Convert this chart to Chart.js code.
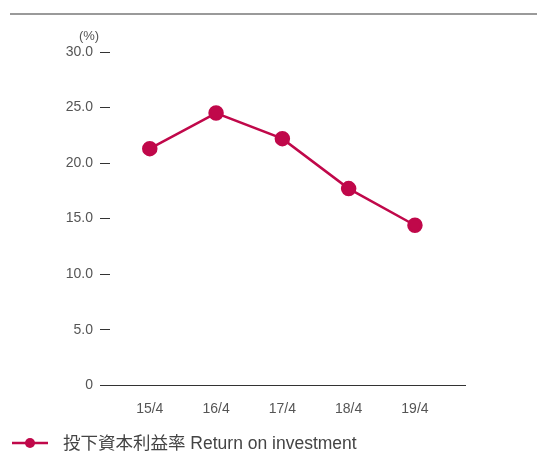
<!DOCTYPE html>
<html>
<head>
<meta charset="utf-8">
<script src="https://cdn.jsdelivr.net/npm/chart.js@4"></script>
<style>
  html, body { margin: 0; padding: 0; background: #fff; }
  #wrap { position: relative; width: 537px; height: 453px; }
</style>
</head>
<body>
<div id="wrap"><canvas id="roiChart" width="537" height="453"></canvas></div>
<script>
const categories = ["15/4", "16/4", "17/4", "18/4", "19/4"];
const roiValues = [21.3, 24.5, 22.2, 17.7, 14.4];
const yTicks = [0, 5, 10, 15, 20, 25, 30];
const seriesLabel = "投下資本利益率 Return on investment";
const unitLabel = "(%)";

const lineColor = "#c0084a";
const textColor = "#555";
const fontFamily = "'Liberation Sans', 'Noto Sans CJK JP', sans-serif";

// top rule, unit label and the legend are drawn here
const extras = {
  id: "extras",
  afterDraw(chart) {
    const ctx = chart.ctx;
    const y = chart.scales.y;
    ctx.save();
    ctx.strokeStyle = "#9a9a9a";
    ctx.lineWidth = 2;
    ctx.beginPath();
    ctx.moveTo(10, 14);
    ctx.lineTo(537, 14);
    ctx.stroke();

    ctx.fillStyle = textColor;
    ctx.font = "13px " + fontFamily;
    ctx.textAlign = "center";
    ctx.textBaseline = "middle";
    ctx.fillText(unitLabel, 89, y.getPixelForValue(30) - 16);

    // legend
    const ly = 443;
    ctx.strokeStyle = lineColor;
    ctx.lineWidth = 2.5;
    ctx.beginPath();
    ctx.moveTo(12, ly);
    ctx.lineTo(48, ly);
    ctx.stroke();
    ctx.fillStyle = lineColor;
    ctx.beginPath();
    ctx.arc(30, ly, 5, 0, Math.PI * 2);
    ctx.fill();
    ctx.fillStyle = "#444";
    ctx.font = "17.5px " + fontFamily;
    ctx.textAlign = "left";
    ctx.fillText(chart.data.datasets[0].label, 63, ly + 1);
    ctx.restore();
  }
};

new Chart(document.getElementById("roiChart"), {
  type: "line",
  data: {
    datasets: [{
      label: seriesLabel,
      data: roiValues.map((v, i) => ({ x: i, y: v })),
      borderColor: lineColor,
      backgroundColor: lineColor,
      borderWidth: 2.5,
      pointRadius: 6.5,
      pointHoverRadius: 6.5,
      fill: false,
      tension: 0
    }]
  },
  options: {
    responsive: false,
    animation: false,
    layout: { padding: { top: 52, right: 72, bottom: 27, left: 0 } },
    plugins: { legend: { display: false }, tooltip: { enabled: false } },
    scales: {
      x: {
        type: "linear",
        min: -0.6,
        max: 4.755,
        afterBuildTicks: (scale) => { scale.ticks = categories.map((c, i) => ({ value: i })); },
        grid: { display: false },
        border: { display: true, color: "#333", width: 1 },
        ticks: {
          padding: 8,
          color: textColor,
          font: { size: 14, family: fontFamily },
          callback: (v) => categories[v] ?? ""
        }
      },
      y: {
        min: 0,
        max: 30,
        afterBuildTicks: (scale) => { scale.ticks = yTicks.map(v => ({ value: v })); },
        afterFit: (scale) => { scale.width = 110; },
        grid: { drawOnChartArea: false, drawTicks: true, tickLength: 10, color: "#333", lineWidth: 1 },
        border: { display: false },
        ticks: {
          padding: 7,
          color: textColor,
          font: { size: 14, family: fontFamily },
          callback: (v) => v === 0 ? "0" : v.toFixed(1)
        }
      }
    }
  },
  plugins: [extras]
});
</script>
</body>
</html>
